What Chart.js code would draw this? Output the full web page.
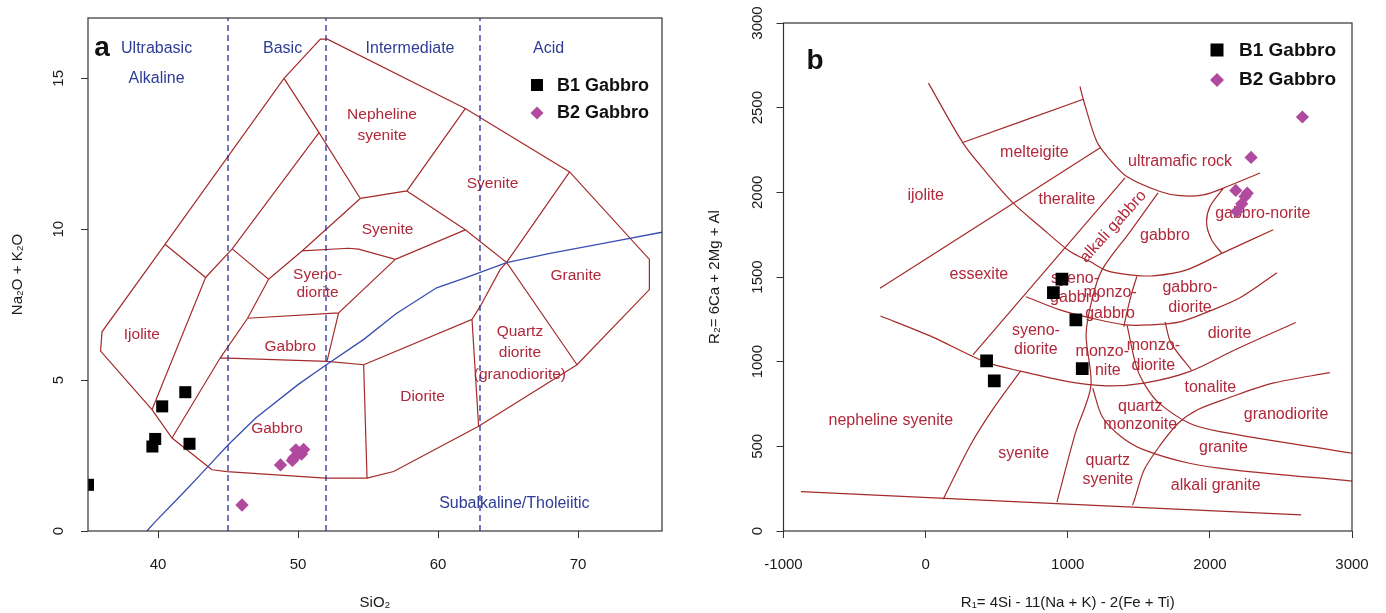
<!DOCTYPE html>
<html>
<head>
<meta charset="utf-8">
<script src="https://cdn.jsdelivr.net/npm/chart.js@4.4.0/dist/chart.umd.min.js"></script>
<style>
  html, body { margin: 0; padding: 0; background: #fff; }
  #wrap { display: flex; width: 1386px; height: 613px; }
  .panel { position: relative; width: 693px; height: 613px; }
</style>
</head>
<body>
<div id="wrap">
  <div class="panel"><canvas id="chart-a"></canvas></div>
  <div class="panel"><canvas id="chart-b"></canvas></div>
</div>
<script>
'use strict';

// ---- panel a : SiO2 vs Na2O + K2O ----
let tasXTicks = [40, 50, 60, 70];
let tasYTicks = [0, 5, 10, 15];
let b1SiO2 = [35.0, 39.6, 39.8, 40.3, 41.95, 42.25];
let b1Alk = [1.53, 2.8, 3.05, 4.13, 4.6, 2.89];
let b2SiO2 = [46.0, 48.75, 49.6, 49.7, 49.85, 50.25, 50.4];
let b2Alk = [0.86, 2.19, 2.34, 2.42, 2.69, 2.55, 2.7];
let groupDividers = [45, 52, 63];
let alkDivider = [[39.2, 0], [40, 0.4], [41, 0.88], [42, 1.36], [43, 1.85], [45, 2.85], [47, 3.75],
  [50, 4.85], [52, 5.5], [54.7, 6.35], [57, 7.2], [59.9, 8.06], [62, 8.4], [64.9, 8.89],
  [68, 9.2], [72, 9.55], [76, 9.9]];
let tasOuter = [[43.86, 2.03], [44.93, 1.97], [51.95, 1.75], [54.93, 1.75], [56.83, 1.97], [62.9, 3.47],
  [69.93, 5.51], [75.1, 8.0], [75.1, 9.0], [69.4, 11.9], [61.95, 14.0], [52.1, 16.3], [51.6, 16.3],
  [49, 15], [40.5, 9.5], [36.0, 6.6], [35.9, 5.96], [39.57, 4.02], [41.0, 3.08], [43.86, 2.03]];
let tasInner = [
  [[49, 15], [51.5, 13.2], [54.45, 11.02]],
  [[51.5, 13.2], [45.3, 9.35], [43.4, 8.4]],
  [[40.5, 9.5], [43.4, 8.4], [39.57, 4.02]],
  [[45.3, 9.35], [47.9, 8.34], [50.29, 9.28], [54.45, 11.02]],
  [[47.9, 8.34], [46.4, 7.05], [44.45, 5.74], [41.0, 3.08]],
  [[54.45, 11.02], [57.78, 11.27], [61.95, 14.0]],
  [[57.78, 11.27], [61.95, 9.98], [64.9, 8.9], [69.4, 11.9]],
  [[50.29, 9.28], [53.61, 9.37], [54.33, 9.34], [56.95, 9.0], [61.95, 9.98]],
  [[56.95, 9.0], [52.9, 7.23], [46.4, 7.05]],
  [[52.9, 7.23], [52.07, 5.62]],
  [[44.45, 5.74], [52.07, 5.62], [54.69, 5.51], [54.93, 1.75]],
  [[54.69, 5.51], [62.43, 7.01], [62.9, 3.47]],
  [[62.43, 7.01], [63.02, 7.45], [64.45, 8.67], [64.9, 8.9], [69.93, 5.51]]
];
let tasRockNames = [
  ['Nepheline', 56.0, 13.8], ['syenite', 56.0, 13.1], ['Syenite', 63.9, 11.5], ['Syenite', 56.4, 10.0],
  ['Syeno-', 51.4, 8.5], ['diorite', 51.4, 7.9], ['Gabbro', 49.45, 6.1], ['Ijolite', 38.85, 6.5],
  ['Gabbro', 48.5, 3.4], ['Quartz', 65.85, 6.6], ['diorite', 65.85, 5.92], ['(granodiorite)', 65.85, 5.18],
  ['Diorite', 58.9, 4.44], ['Granite', 69.85, 8.45]
];
let tasGroupNames = [
  ['Ultrabasic', 39.9, 15.98], ['Alkaline', 39.9, 14.98], ['Basic', 48.9, 15.98],
  ['Intermediate', 58.0, 15.98], ['Acid', 67.9, 15.98], ['Subalkaline/Tholeiitic', 65.45, 0.92]
];

// ---- panel b : R1 vs R2 ----
let r1Ticks = [-1000, 0, 1000, 2000, 3000];
let r2Ticks = [0, 500, 1000, 1500, 2000, 2500, 3000];
let b1R1 = [959, 899, 1057, 429, 483, 1102];
let b1R2 = [1487, 1408, 1247, 1005, 886, 959];
let b2R1 = [2182, 2263, 2247, 2224, 2189, 2290, 2651];
let b2R2 = [2011, 1995, 1975, 1932, 1887, 2206, 2445];
let r1r2Lines = [
  [[-877, 232], [2642, 95]],
  [[20, 2645], [261, 2294], [430, 2114], [617, 1936], [805, 1798], [1016, 1650], [1157, 1591], [1274, 1538],
    [1438, 1513], [1602, 1507], [1837, 1542], [2095, 1644], [2446, 1779]],
  [[1086, 2625], [1110, 2547], [1204, 2300], [1298, 2192], [1415, 2094], [1649, 2005], [1790, 1980],
    [1954, 1985], [2095, 2025], [2353, 2114]],
  [[261, 2294], [1110, 2550]],
  [[-321, 1434], [617, 1936], [1234, 2266]],
  [[333, 1040], [1403, 2086]],
  [[706, 1383], [945, 1306], [1157, 1259], [1403, 1217], [1578, 1217], [1790, 1235], [2001, 1300],
    [2212, 1377], [2472, 1525]],
  [[1635, 1997], [1438, 1767], [1241, 1542], [1170, 1365], [1129, 1158], [1163, 857], [1054, 579], [924, 171]],
  [[-318, 1270], [43, 1148], [415, 1000], [683, 941], [1003, 882], [1270, 857], [1537, 873], [1856, 941],
    [2177, 1070], [2604, 1231]],
  [[123, 187], [309, 498], [470, 715], [670, 947]],
  [[1176, 843], [1243, 675], [1376, 557], [1537, 479], [1856, 400], [2177, 360], [3000, 295]],
  [[1417, 1217], [1483, 971], [1550, 853], [1643, 755], [1856, 636], [2070, 587], [3000, 459]],
  [[1685, 1235], [1726, 1111], [1870, 951]],
  [[1456, 154], [1469, 183], [1537, 360], [1643, 498], [1777, 636], [1910, 715], [2124, 784],
    [2443, 873], [2844, 935]],
  [[2095, 2025], [2001, 1916], [1977, 1818], [2012, 1720], [2083, 1641]],
  [[1486, 1503], [1450, 1405], [1415, 1286], [1395, 1207]]
];
let r1r2RockNames = [
  ['melteigite', 765, 2235], ['ijolite', 0, 1980], ['theralite', 994, 1956], ['essexite', 375, 1517],
  ['syeno-', 1051, 1489], ['gabbro', 1051, 1377], ['gabbro', 1684, 1745], ['ultramafic rock', 1790, 2182],
  ['gabbro-norite', 2372, 1877], ['monzo-', 1298, 1408], ['gabbro', 1298, 1286], ['gabbro-', 1860, 1440],
  ['diorite', 1860, 1322], ['diorite', 2138, 1168], ['syeno-', 776, 1182], ['diorite', 776, 1074],
  ['monzo-', 1243, 1060], ['nite', 1282, 947], ['monzo-', 1602, 1093], ['diorite', 1602, 977],
  ['tonalite', 2003, 849], ['granodiorite', 2536, 685], ['granite', 2096, 490], ['alkali granite', 2041, 266],
  ['quartz', 1510, 733], ['monzonite', 1510, 626], ['quartz', 1282, 414], ['syenite', 1282, 301],
  ['syenite', 690, 459], ['nepheline syenite', -245, 652], ['alkali gabbro', 1320, 1798, -48]
];

const FONT = "'Liberation Sans', Arial, Helvetica, sans-serif";
const LINE_RED = '#A52A2A';
const TEXT_RED = '#B0283A';
const TEXT_BLUE = '#2E3C96';
const PURPLE = '#B04A9E';

Chart.defaults.font.family = FONT;

function toPoints(xs, ys) {
  let pts = [];
  for (let i = 0; i < xs.length; i++) {
    pts.push({ x: xs[i], y: ys[i] });
  }
  return pts;
}

// polylines joined with null gaps so one dataset can hold many segments
function toLineData(lines) {
  let out = [];
  for (let i = 0; i < lines.length; i++) {
    for (let j = 0; j < lines[i].length; j++) {
      out.push({ x: lines[i][j][0], y: lines[i][j][1] });
    }
    out.push({ x: null, y: null });
  }
  return out;
}

function drawLabels(chart, list, font, color) {
  let ctx = chart.ctx;
  let xs = chart.scales.x;
  let ys = chart.scales.y;
  ctx.save();
  ctx.font = font;
  ctx.fillStyle = color;
  ctx.textAlign = 'center';
  ctx.textBaseline = 'middle';
  for (let i = 0; i < list.length; i++) {
    let px = xs.getPixelForValue(list[i][1]);
    let py = ys.getPixelForValue(list[i][2]);
    if (list[i][3]) {
      ctx.save();
      ctx.translate(px, py);
      ctx.rotate(list[i][3] * Math.PI / 180);
      ctx.fillText(list[i][0], 0, 0);
      ctx.restore();
    } else {
      ctx.fillText(list[i][0], px, py);
    }
  }
  ctx.restore();
}

function drawSquare(ctx, x, y, side, color) {
  ctx.fillStyle = color;
  ctx.fillRect(x - side / 2, y - side / 2, side, side);
}

function drawDiamond(ctx, x, y, r, color) {
  ctx.fillStyle = color;
  ctx.beginPath();
  ctx.moveTo(x, y - r);
  ctx.lineTo(x + r, y);
  ctx.lineTo(x, y + r);
  ctx.lineTo(x - r, y);
  ctx.closePath();
  ctx.fill();
}

function makeDecor(cfg) {
  return {
    id: 'decor',
    beforeDatasetsDraw(chart) {
      drawLabels(chart, cfg.rockNames, cfg.rockFont, TEXT_RED);
      if (cfg.groupNames) {
        drawLabels(chart, cfg.groupNames, cfg.groupFont, TEXT_BLUE);
      }
      drawLabels(chart, [cfg.panelTag], 'bold ' + cfg.tagSize + 'px ' + FONT, '#111');
    },
    afterDatasetsDraw(chart) {
      let ctx = chart.ctx;
      let ca = chart.chartArea;
      ctx.save();
      ctx.strokeStyle = '#333';
      ctx.lineWidth = 1.2;
      ctx.strokeRect(ca.left, ca.top, ca.right - ca.left, ca.bottom - ca.top);
      // legend
      let lx = ca.right - cfg.legend.dx;
      let ty1 = ca.top + cfg.legend.dy1;
      let ty2 = ca.top + cfg.legend.dy2;
      drawSquare(ctx, lx, ty1, cfg.legend.sq, '#000');
      drawDiamond(ctx, lx, ty2, cfg.legend.dm, PURPLE);
      ctx.font = 'bold ' + cfg.legend.size + 'px ' + FONT;
      ctx.fillStyle = '#111';
      ctx.textAlign = 'left';
      ctx.textBaseline = 'middle';
      ctx.fillText('B1 Gabbro', lx + cfg.legend.tx, ty1 + 1);
      ctx.fillText('B2 Gabbro', lx + cfg.legend.tx, ty2);
      ctx.restore();
    }
  };
}

function axisOptions(o) {
  o.tickOpts.callback = function (v) { return String(v); };
  return {
    type: 'linear',
    min: o.min,
    max: o.max,
    afterBuildTicks: function (s) {
      s.ticks = o.ticks.map(function (v) { return { value: v }; });
    },
    afterFit: function (s) {
      if (o.width) { s.width = o.width; }
      if (o.height) { s.height = o.height; }
      s.paddingTop = 0;
      s.paddingBottom = 0;
      s.paddingLeft = 0;
      s.paddingRight = 0;
    },
    grid: { drawOnChartArea: false, drawTicks: true, tickLength: 7, color: '#333', lineWidth: 1 },
    border: { display: false },
    ticks: o.tickOpts,
    title: { display: true, text: o.title, color: '#1a1a1a', font: { size: 15 }, padding: o.titlePad }
  };
}

function baseOptions(padding, xAxis, yAxis) {
  return {
    responsive: true,
    maintainAspectRatio: false,
    animation: false,
    devicePixelRatio: 1,
    events: [],
    layout: { padding: padding },
    plugins: { legend: { display: false }, tooltip: { enabled: false } },
    scales: { x: xAxis, y: yAxis }
  };
}

function renderTas() {
  let dividerLines = groupDividers.map(function (v) { return [[v, 0], [v, 17]]; });
  new Chart(document.getElementById('chart-a'), {
    type: 'scatter',
    data: {
      datasets: [
        { label: 'B1 Gabbro', data: toPoints(b1SiO2, b1Alk), pointStyle: 'rect', pointRadius: 8.5,
          backgroundColor: '#000', borderWidth: 0, order: 1 },
        { label: 'B2 Gabbro', data: toPoints(b2SiO2, b2Alk), pointStyle: 'rectRot', pointRadius: 6.7,
          backgroundColor: PURPLE, borderWidth: 0, order: 2 },
        { data: toLineData([alkDivider]), showLine: true, pointRadius: 0, borderColor: '#3A4DB0',
          borderWidth: 1.3, spanGaps: false, order: 3 },
        { data: toLineData(dividerLines), showLine: true, pointRadius: 0, borderColor: '#2B2F9A',
          borderWidth: 1.3, borderDash: [6, 4], spanGaps: false, order: 4 },
        { data: toLineData([tasOuter].concat(tasInner)), showLine: true, pointRadius: 0,
          borderColor: LINE_RED, borderWidth: 1.2, spanGaps: false, order: 5 }
      ]
    },
    options: baseOptions({ left: 0, right: 31, top: 18, bottom: 0 },
      axisOptions({ min: 35, max: 76, ticks: tasXTicks, height: 82, title: 'SiO\u2082',
        titlePad: { top: 0, bottom: 1 },
        tickOpts: { color: '#1a1a1a', font: { size: 15 }, padding: 18, maxRotation: 0 } }),
      axisOptions({ min: 0, max: 17, ticks: tasYTicks, width: 88, title: 'Na\u2082O + K\u2082O',
        titlePad: { top: 9, bottom: 0 },
        tickOpts: { color: '#1a1a1a', font: { size: 15 }, padding: 14, minRotation: 90, maxRotation: 90,
          crossAlign: 'center' } })),
    plugins: [makeDecor({
      rockNames: tasRockNames, rockFont: '15.5px ' + FONT,
      groupNames: tasGroupNames, groupFont: '16px ' + FONT,
      panelTag: ['a', 36.0, 15.98], tagSize: 28,
      legend: { dx: 125, dy1: 67, dy2: 95, sq: 12, dm: 6.5, tx: 20, size: 18 }
    })]
  });
}

function renderR1R2() {
  new Chart(document.getElementById('chart-b'), {
    type: 'scatter',
    data: {
      datasets: [
        { label: 'B1 Gabbro', data: toPoints(b1R1, b1R2), pointStyle: 'rect', pointRadius: 9,
          backgroundColor: '#000', borderWidth: 0, order: 1 },
        { label: 'B2 Gabbro', data: toPoints(b2R1, b2R2), pointStyle: 'rectRot', pointRadius: 6.6,
          backgroundColor: PURPLE, borderWidth: 0, order: 2 },
        { data: toLineData(r1r2Lines), showLine: true, pointRadius: 0, borderColor: LINE_RED,
          borderWidth: 1.2, tension: 0.3, spanGaps: false, order: 3 }
      ]
    },
    options: baseOptions({ left: 0, right: 34, top: 23, bottom: 0 },
      axisOptions({ min: -1000, max: 3000, ticks: r1Ticks, height: 82,
        title: 'R\u2081= 4Si - 11(Na + K) - 2(Fe + Ti)', titlePad: { top: 0, bottom: 1 },
        tickOpts: { color: '#1a1a1a', font: { size: 15 }, padding: 18, maxRotation: 0 } }),
      axisOptions({ min: 0, max: 3000, ticks: r2Ticks, width: 90.5, title: 'R\u2082= 6Ca + 2Mg + Al',
        titlePad: { top: 13, bottom: 0 },
        tickOpts: { color: '#1a1a1a', font: { size: 15 }, padding: 2, minRotation: 90, maxRotation: 90,
          crossAlign: 'center' } })),
    plugins: [makeDecor({
      rockNames: r1r2RockNames, rockFont: '16px ' + FONT,
      groupNames: null,
      panelTag: ['b', -778, 2771], tagSize: 28,
      legend: { dx: 135, dy1: 27, dy2: 57, sq: 13, dm: 7, tx: 22, size: 19 }
    })]
  });
}

renderTas();
renderR1R2();
</script>
</body>
</html>
